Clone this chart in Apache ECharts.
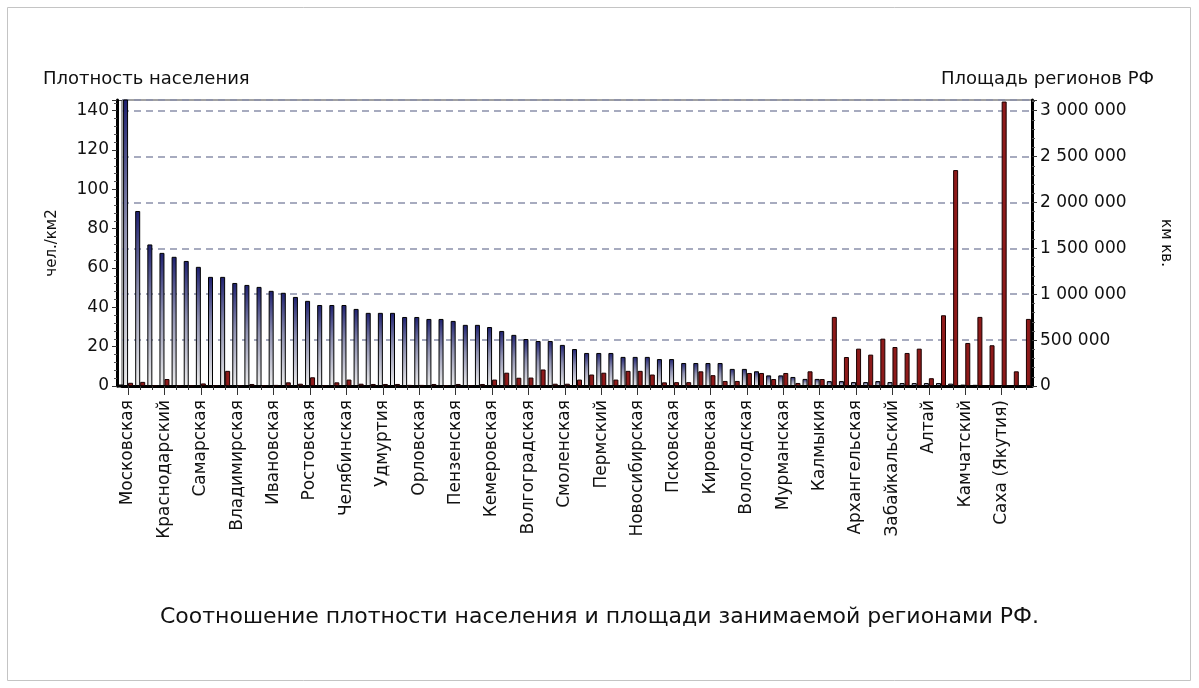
<!DOCTYPE html>
<html>
<head>
    <meta charset="utf-8">
    <title>ECharts</title>
    <script src="https://cdn.jsdelivr.net/npm/echarts@6/dist/echarts.min.js"></script>
    <style>
        html, body { margin: 0; padding: 0; background: #fff; }
    </style>
</head>
<body>
    <div id="main" style="width: 1199px;height:688px;"></div>
    <script type="text/javascript">

// регионы (подписан каждый третий)
var regions = [
    'Московская', '', '',
    'Краснодарский', '', '',
    'Самарская', '', '',
    'Владимирская', '', '',
    'Ивановская', '', '',
    'Ростовская', '', '',
    'Челябинская', '', '',
    'Удмуртия', '', '',
    'Орловская', '', '',
    'Пензенская', '', '',
    'Кемеровская', '', '',
    'Волгоградская', '', '',
    'Смоленская', '', '',
    'Пермский', '', '',
    'Новосибирская', '', '',
    'Псковская', '', '',
    'Кировская', '', '',
    'Вологодская', '', '',
    'Мурманская', '', '',
    'Калмыкия', '', '',
    'Архангельская', '', '',
    'Забайкальский', '', '',
    'Алтай', '', '',
    'Камчатский', '', '',
    'Саха (Якутия)', '', ''
];

// плотность населения, чел./км2
var density = [
    150, 89, 72, 67.7, 65.7, 63.6, 60.6, 55.5, 55.5, 52.4,
    51.4, 50.4, 48.4, 47.4, 45.3, 43.3, 41.2, 41.2, 41.2, 39.2,
    37.2, 37.2, 37.2, 35.1, 35.1, 34.1, 34.1, 33.1, 31.1, 31.1,
    30.0, 28.0, 26.0, 23.9, 22.9, 22.9, 20.9, 18.8, 16.8, 16.8,
    16.8, 14.8, 14.8, 14.8, 13.7, 13.7, 11.7, 11.7, 11.7, 11.7,
    8.7, 8.7, 7.5, 5.4, 5.4, 4.6, 3.6, 3.6, 2.5, 2.5,
    2.0, 2.0, 2.5, 2.0, 1.5, 1.5, 1.5, 1.5, 1.2, 0.7,
    0.6, 0.3, 0.3, 0.2, 0.1
];

// площадь, км кв.
var area = [
    35000, 45000, 8000, 76000, 10000, 8000, 28000, 8000, 165000, 10000,
    22000, 8000, 12000, 40000, 25000, 95000, 10000, 40000, 70000, 25000,
    22000, 22000, 22000, 12000, 12000, 22000, 10000, 22000, 10000, 22000,
    70000, 145000, 90000, 92000, 180000, 25000, 25000, 70000, 125000, 145000,
    70000, 165000, 165000, 125000, 40000, 42000, 42000, 160000, 118000, 55000,
    55000, 142000, 142000, 76000, 142000, 33000, 160000, 76000, 753000, 316000,
    407000, 342000, 516000, 425000, 360000, 407000, 85000, 771000, 2353000, 469000,
    753000, 444000, 3100000, 160000, 731000
];

var leftTicks = [0, 140, 20];          // min, последняя подпись, шаг
var rightTicks = [0, 3000000, 500000];

var FONT = 'DejaVu Sans';

function spaced(v) {
    return String(v).replace(/\B(?=(\d{3})+(?!\d))/g, ' ');
}

// верх графика на 10.7 px выше последней подписи (275 px до неё из 285.7)
var k = 285.7 / 275;

var myChart = echarts.init(document.getElementById('main'));
myChart.setOption({
    backgroundColor: '#ffffff',
    animation: false,
    textStyle: { fontFamily: FONT },
    title: [
        {
            text: 'Плотность населения',
            left: 38, top: 65,
            textStyle: { fontFamily: FONT, fontSize: 18, fontWeight: 'normal', color: '#111' }
        },
        {
            text: 'Площадь регионов РФ',
            right: 40, top: 65,
            textStyle: { fontFamily: FONT, fontSize: 18, fontWeight: 'normal', color: '#111' }
        },
        {
            text: 'Соотношение плотности населения и площади занимаемой регионами РФ.',
            left: 'center', top: 601,
            textStyle: { fontFamily: FONT, fontSize: 22, fontWeight: 'normal', color: '#111' }
        }
    ],
    graphic: [
        {
            type: 'rect',
            shape: { x: 7.5, y: 7.5, width: 1183, height: 673 },
            style: { fill: null, stroke: '#c4c4c4', lineWidth: 1 },
            silent: true
        },
        {
            // начало оси X до смещённой оси Y
            type: 'line',
            shape: { x1: 117, y1: 386, x2: 123, y2: 386 },
            style: { stroke: '#000', lineWidth: 3 },
            silent: true
        },
        {
            type: 'line',
            shape: { x1: 117, y1: 100.5, x2: 123, y2: 100.5 },
            style: { stroke: '#444', lineWidth: 1 },
            silent: true
        }
    ],
    grid: {
        left: 122, right: 167, top: 100, bottom: 302,
        show: true, borderColor: '#444', borderWidth: 1
    },
    xAxis: [
        {
            type: 'category',
            data: regions,
            boundaryGap: true,
            axisLine: { lineStyle: { color: '#000', width: 3 } },
            axisTick: { show: true, interval: 0, length: 4, alignWithLabel: true, lineStyle: { color: '#333' } },
            axisLabel: {
                interval: 0, rotate: 90, margin: 14,
                fontFamily: FONT, fontSize: 17, color: '#111'
            }
        },
        {
            type: 'category',
            data: regions,
            position: 'bottom',
            boundaryGap: true,
            axisLine: { show: false },
            axisTick: { show: true, interval: 2, length: 9, alignWithLabel: true, lineStyle: { color: '#333' } },
            axisLabel: { show: false }
        }
    ],
    yAxis: [
        {
            type: 'value',
            min: leftTicks[0],
            max: leftTicks[1] * k,
            interval: leftTicks[2],
            offset: 5,
            name: 'чел./км2',
            nameLocation: 'middle',
            nameRotate: 90,
            nameGap: 57,
            nameTextStyle: { fontFamily: FONT, fontSize: 15, color: '#111' },
            axisLine: { show: true, lineStyle: { color: '#000', width: 3 } },
            axisTick: { show: true, length: 5, lineStyle: { color: '#333' } },
            minorTick: { show: true, splitNumber: 5, length: 3, lineStyle: { color: '#555' } },
            axisLabel: {
                showMaxLabel: false, margin: 8,
                fontFamily: FONT, fontSize: 17, color: '#111'
            },
            splitLine: { show: false }
        },
        {
            type: 'value',
            min: rightTicks[0],
            max: rightTicks[1] * k,
            interval: rightTicks[2],
            position: 'right',
            name: 'км кв.',
            nameLocation: 'middle',
            nameRotate: -90,
            nameGap: 126,
            nameTextStyle: { fontFamily: FONT, fontSize: 15, color: '#111' },
            axisLine: { show: true, lineStyle: { color: '#000', width: 3 } },
            axisTick: { show: true, length: 5, lineStyle: { color: '#333' } },
            minorTick: { show: true, splitNumber: 5, length: 3, lineStyle: { color: '#555' } },
            axisLabel: {
                showMaxLabel: false, margin: 8,
                fontFamily: FONT, fontSize: 17, color: '#111',
                formatter: spaced
            },
            splitLine: {
                show: true,
                lineStyle: { color: '#8a90aa', width: 1.5, type: [7, 5] }
            }
        }
    ],
    series: [
        {
            name: 'Плотность населения',
            type: 'bar',
            yAxisIndex: 0,
            data: density,
            barWidth: 5,
            barGap: '0%',
            clip: true,
            itemStyle: {
                borderColor: '#000',
                borderWidth: 1,
                color: new echarts.graphic.LinearGradient(0, 0, 0, 1, [
                    { offset: 0, color: '#1e2070' },
                    { offset: 0.45, color: '#8e90b0' },
                    { offset: 1, color: '#ececec' }
                ])
            }
        },
        {
            name: 'Площадь регионов РФ',
            type: 'bar',
            yAxisIndex: 1,
            data: area,
            barWidth: 5,
            barGap: '0%',
            clip: true,
            itemStyle: {
                borderColor: '#1a0000',
                borderWidth: 1,
                color: '#8e1a1a'
            }
        }
    ]
});
</script>
</body>
</html>
